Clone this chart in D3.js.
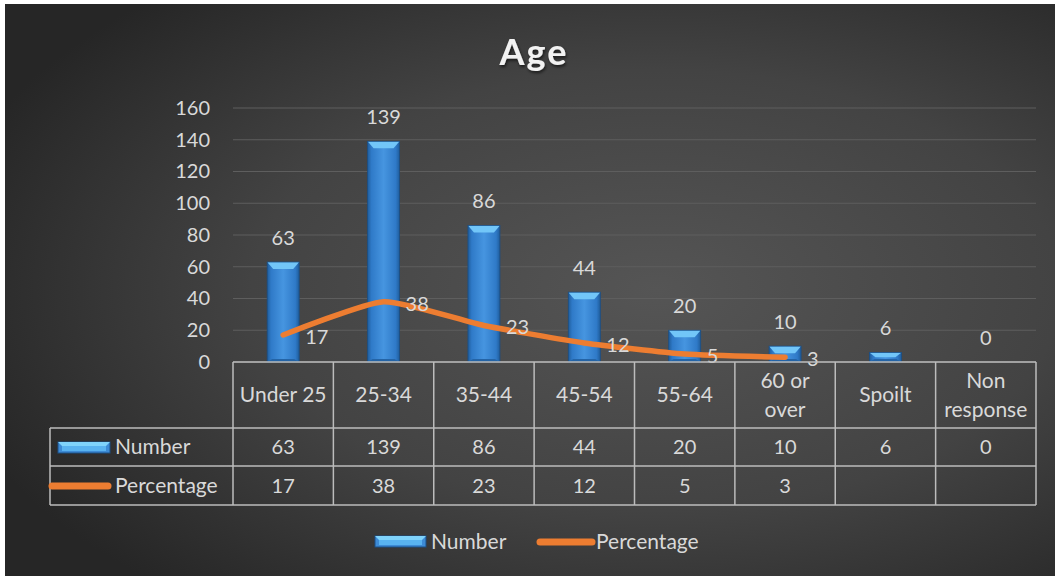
<!DOCTYPE html>
<html>
<head>
<meta charset="utf-8">
<script src="https://cdn.jsdelivr.net/npm/d3@7"></script>
<style>
  body { margin: 0; background: #fff; }
  svg { display: block; }
  text { font-family: Lato, "Open Sans", sans-serif; }
</style>
</head>
<body>
<svg id="canvas" width="1055" height="578"></svg>
<script>
// chart data
let categories = ['Under 25', '25-34', '35-44', '45-54', '55-64', '60 or\nover', 'Spoilt', 'Non\nresponse']
let numbers = [63, 139, 86, 44, 20, 10, 6, 0]
let percentages = [17, 38, 23, 12, 5, 3, null, null]
let yTicks = [0, 20, 40, 60, 80, 100, 120, 140, 160]
let seriesNames = ['Number', 'Percentage']

let canvas = d3.select('#canvas')
let txt = '#d9d9d9'
let orange = '#ed7d31'

let defs = canvas.append('defs')

// background gradient
let bg = defs.append('radialGradient').attr('id', 'bg')
    .attr('cx', '0.62').attr('cy', '0.5').attr('r', '0.7')
bg.append('stop').attr('offset', '0').attr('stop-color', '#555555')
bg.append('stop').attr('offset', '0.55').attr('stop-color', '#434343')
bg.append('stop').attr('offset', '1').attr('stop-color', '#262626')

let barGrad = defs.append('linearGradient').attr('id', 'barGrad')
    .attr('x1', 0).attr('x2', 1).attr('y1', 0).attr('y2', 0)
barGrad.append('stop').attr('offset', '0').attr('stop-color', '#1f5d9c')
barGrad.append('stop').attr('offset', '0.12').attr('stop-color', '#2f7ac8')
barGrad.append('stop').attr('offset', '0.5').attr('stop-color', '#4695e0')
barGrad.append('stop').attr('offset', '0.88').attr('stop-color', '#2f7ac8')
barGrad.append('stop').attr('offset', '1').attr('stop-color', '#1f5d9c')

let shadow = defs.append('filter').attr('id', 'tshadow')
    .attr('x', '-20%').attr('y', '-20%').attr('width', '140%').attr('height', '140%')
shadow.append('feDropShadow').attr('dx', 1).attr('dy', 2).attr('stdDeviation', 1.5)
    .attr('flood-color', '#000').attr('flood-opacity', 0.6)

canvas.append('rect')
    .attr('x', 5).attr('y', 4).attr('width', 1050).attr('height', 572)
    .attr('fill', 'url(#bg)')

// title
canvas.append('text')
    .attr('x', 534).attr('y', 65)
    .attr('text-anchor', 'middle')
    .attr('font-size', 36).attr('font-weight', 'bold')
    .attr('letter-spacing', 2)
    .attr('fill', '#f2f2f2')
    .attr('filter', 'url(#tshadow)')
    .text('Age')

let xScale = d3.scaleBand()
    .domain(categories)
    .range([233, 1036])

let yScale = d3.scaleLinear()
    .domain([0, 160])
    .range([362, 108])

// gridlines
canvas.append('g').selectAll('line')
    .data(yTicks)
    .enter()
    .append('line')
    .attr('x1', 233).attr('x2', 1036)
    .attr('y1', d => yScale(d)).attr('y2', d => yScale(d))
    .attr('stroke', '#5e5e5e').attr('stroke-width', 1)

let yAxis = d3.axisLeft(yScale).tickValues(yTicks).tickSize(0).tickPadding(0)
let yG = canvas.append('g')
    .attr('transform', 'translate(210,0)')
    .call(yAxis)
yG.select('.domain').remove()
yG.selectAll('text')
    .attr('fill', txt).attr('font-size', 20)
    .style('font-family', 'Lato, sans-serif')

// bars with bevel
let barW = 32
let bevel = 7
let barG = canvas.append('g')
categories.forEach((c, i) => {
    let v = numbers[i]
    let cx = xScale(c) + xScale.bandwidth() / 2
    let x0 = cx - barW / 2
    let top = yScale(v)
    let h = yScale(0) - top
    if (h <= 0) return
    let g = barG.append('g')
    g.append('rect')
        .attr('x', x0).attr('y', top).attr('width', barW).attr('height', h)
        .attr('fill', 'url(#barGrad)')
    let b = Math.min(bevel, h / 2)
    // top bevel
    g.append('path')
        .attr('d', `M${x0},${top} L${x0 + barW},${top} L${x0 + barW - 6},${top + b} L${x0 + 6},${top + b} Z`)
        .attr('fill', '#72c6f8')
    // bottom bevel
    g.append('path')
        .attr('d', `M${x0},${top + h} L${x0 + barW},${top + h} L${x0 + barW - 5},${top + h - Math.min(3, h / 2)} L${x0 + 5},${top + h - Math.min(3, h / 2)} Z`)
        .attr('fill', '#2464a6')
    g.append('rect')
        .attr('x', x0).attr('y', top).attr('width', barW).attr('height', h)
        .attr('fill', 'none').attr('stroke', '#1b4f86').attr('stroke-width', 0.8)
})

// bar labels
canvas.append('g').selectAll('text')
    .data(numbers)
    .enter()
    .append('text')
    .attr('x', (d, i) => xScale(categories[i]) + xScale.bandwidth() / 2)
    .attr('y', d => yScale(d) - 24)
    .attr('dy', '0.35em')
    .attr('text-anchor', 'middle')
    .attr('fill', txt).attr('font-size', 20)
    .text(d => d)

// percentage line
let pts = percentages
    .map((p, i) => ({ c: categories[i], p: p }))
    .filter(d => d.p !== null)

let line = d3.line()
    .x(d => xScale(d.c) + xScale.bandwidth() / 2)
    .y(d => yScale(d.p))
    .curve(d3.curveCardinal.tension(0.45))

canvas.append('path')
    .datum(pts)
    .attr('d', line)
    .attr('fill', 'none')
    .attr('stroke', orange)
    .attr('stroke-width', 5.5)
    .attr('stroke-linecap', 'round')

canvas.append('g').selectAll('text')
    .data(pts)
    .enter()
    .append('text')
    .attr('x', d => xScale(d.c) + xScale.bandwidth() / 2 + 22)
    .attr('y', d => yScale(d.p) + 2)
    .attr('dy', '0.35em')
    .attr('fill', txt).attr('font-size', 20)
    .text(d => d.p)

// data table
let tableTop = 362
let headerBottom = 428
let row1Bottom = 466
let row2Bottom = 505
let tableLeft = 50
let tbl = canvas.append('g')
let lineColor = '#bcbcbc'

let hline = (x1, x2, y) => tbl.append('line')
    .attr('x1', x1).attr('x2', x2).attr('y1', y).attr('y2', y)
    .attr('stroke', lineColor).attr('stroke-width', 1.5)
let vline = (x, y1, y2) => tbl.append('line')
    .attr('x1', x).attr('x2', x).attr('y1', y1).attr('y2', y2)
    .attr('stroke', lineColor).attr('stroke-width', 1.5)

hline(233, 1036, tableTop)
hline(tableLeft, 1036, headerBottom)
hline(tableLeft, 1036, row1Bottom)
hline(tableLeft, 1036, row2Bottom)
vline(tableLeft, headerBottom, row2Bottom)
categories.forEach(c => vline(xScale(c), tableTop, row2Bottom))
vline(1036, tableTop, row2Bottom)

// header labels
categories.forEach(c => {
    let lines = c.split('\n')
    let cx = xScale(c) + xScale.bandwidth() / 2
    let cy = (tableTop + headerBottom) / 2
    let t = tbl.append('text')
        .attr('x', cx)
        .attr('text-anchor', 'middle')
        .attr('fill', txt).attr('font-size', 21)
    lines.forEach((l, j) => {
        t.append('tspan')
            .attr('x', cx)
            .attr('y', cy + (j - (lines.length - 1) / 2) * 29)
            .attr('dy', '0.35em')
            .text(l)
    })
})

let rowMid1 = (headerBottom + row1Bottom) / 2
let rowMid2 = (row1Bottom + row2Bottom) / 2

tbl.selectAll('.num')
    .data(numbers)
    .enter()
    .append('text')
    .attr('x', (d, i) => xScale(categories[i]) + xScale.bandwidth() / 2)
    .attr('y', rowMid1).attr('dy', '0.35em')
    .attr('text-anchor', 'middle')
    .attr('fill', txt).attr('font-size', 20)
    .text(d => d)

tbl.selectAll('.pct')
    .data(percentages)
    .enter()
    .append('text')
    .attr('x', (d, i) => xScale(categories[i]) + xScale.bandwidth() / 2)
    .attr('y', rowMid2).attr('dy', '0.35em')
    .attr('text-anchor', 'middle')
    .attr('fill', txt).attr('font-size', 20)
    .text(d => d === null ? '' : d)

// legend keys
let barKey = (g, x, y, w, h) => {
    g.append('rect').attr('x', x).attr('y', y).attr('width', w).attr('height', h)
        .attr('fill', '#3d8bd6').attr('stroke', '#1b4f86').attr('stroke-width', 1)
    g.append('path')
        .attr('d', `M${x},${y} L${x + w},${y} L${x + w - 4},${y + 4} L${x + 4},${y + 4} Z`)
        .attr('fill', '#7fd3fb')
    g.append('rect').attr('x', x + 4).attr('y', y + 4).attr('width', w - 8).attr('height', h - 6)
        .attr('fill', '#59b3f0')
}
let lineKey = (g, x1, x2, y) => {
    g.append('line').attr('x1', x1).attr('x2', x2).attr('y1', y).attr('y2', y)
        .attr('stroke', orange).attr('stroke-width', 7).attr('stroke-linecap', 'round')
}

barKey(tbl, 58, 442, 52, 11)
lineKey(tbl, 52, 108, 486)
tbl.append('text').attr('x', 115).attr('y', rowMid1).attr('dy', '0.35em')
    .attr('fill', txt).attr('font-size', 21).text(seriesNames[0])
tbl.append('text').attr('x', 115).attr('y', rowMid2).attr('dy', '0.35em')
    .attr('fill', txt).attr('font-size', 21).text(seriesNames[1])

// bottom legend
let leg = canvas.append('g')
barKey(leg, 375, 536, 51, 11)
leg.append('text').attr('x', 431).attr('y', 542).attr('dy', '0.35em')
    .attr('fill', txt).attr('font-size', 21).text(seriesNames[0])
lineKey(leg, 540, 592, 542)
leg.append('text').attr('x', 596).attr('y', 542).attr('dy', '0.35em')
    .attr('fill', txt).attr('font-size', 21).text(seriesNames[1])
</script>
</body>
</html>
